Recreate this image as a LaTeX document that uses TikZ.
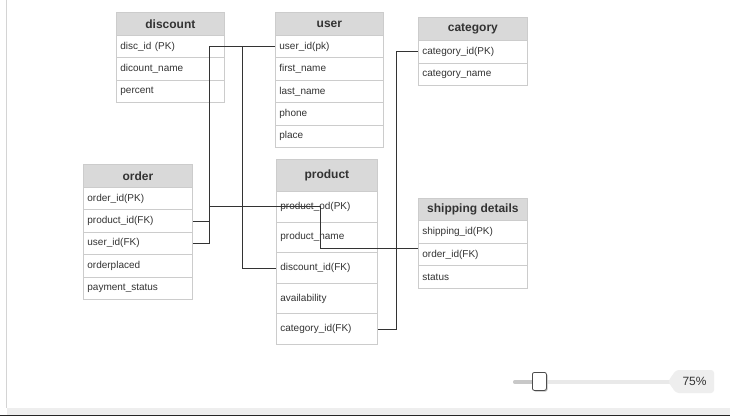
\documentclass[tikz,border=0pt]{standalone}
\usepackage{fontspec}
\setmainfont{Liberation Sans}
\definecolor{hdrfill}{HTML}{D9D9D9}
\definecolor{tblline}{HTML}{CCCCCC}
\definecolor{txt}{HTML}{333333}
\definecolor{wire}{HTML}{333333}
\definecolor{track}{HTML}{E9E9E9}
\definecolor{trackdark}{HTML}{C8C8C8}
\definecolor{bandgray}{HTML}{EEEEEE}
\tikzset{
  hdr/.style={draw=tblline, fill=hdrfill, line width=0.8pt, inner sep=0pt,
    font=\fontsize{12}{14}\selectfont\bfseries, text=txt},
  rowbox/.style={draw=tblline, fill=white, line width=0.8pt, inner xsep=4pt, inner ysep=0pt,
    align=left, font=\fontsize{10}{12}\selectfont, text=txt},
  conn/.style={draw=wire, line width=0.8pt},
}
% #1 name, #2 x, #3 ytop, #4 width, #5 header height, #6 row height, #7 title, #8 rows
\newcommand\erdtab[8]{%
  \node[hdr, minimum width=#4, minimum height=#5, anchor=north west] (#1) at (#2,#3) {#7};
  \pgfmathsetmacro\erdtw{#4-8}%
  \foreach \r [count=\i] in {#8} {
    \pgfmathsetmacro\erdyy{#3+#5+(\i-1)*#6}
    \node[rowbox, minimum width=#4, minimum height=#6, text width=\erdtw pt, anchor=north west]
      (#1-\i) at (#2,\erdyy) {\r};
  }%
}
\begin{document}
\begin{tikzpicture}[x=1pt, y=-1pt]
\useasboundingbox (0,0) rectangle (730,416);
% frame of the canvas
\fill[white] (0,0) rectangle (730,416);
\fill[bandgray] (7,408) rectangle (730,414.5);
\fill[black!85] (0,414.5) rectangle (730,416);
\draw[black!17, line width=1.5pt] (6.5,0) -- (6.5,408);

% tables
\erdtab{discount}{116}{12}{108}{23}{22.3}{discount}{disc\_id (PK),dicount\_name,percent}
\erdtab{user}{275}{12}{108}{23}{22.4}{user}{user\_id(pk),first\_name,last\_name,phone,place}
\erdtab{category}{418}{17}{109}{23}{22.5}{category}{category\_id(PK),category\_name}
\erdtab{order}{83}{164}{109}{23}{22.4}{order}{order\_id(PK),product\_id(FK),user\_id(FK),orderplaced,payment\_status}
\erdtab{product}{276}{159}{101}{32}{30.6}{product}{product\_od(PK),product\_name,discount\_id(FK),availability,category\_id(FK)}
\erdtab{shipping}{418}{198}{109}{22}{22.7}{shipping details}{shipping\_id(PK),order\_id(FK),status}

% junction coordinates
\coordinate (j1) at (209,0);
\coordinate (j2) at (242,0);
\coordinate (j3) at (320,0);
\coordinate (j5) at (396,0);
\coordinate (e4) at (223,206.3);
\coordinate (s4) at ([yshift=6pt]shipping-2.west);

% connectors
\draw[conn] (user-1.west) -- (user-1.west -| j1) |- (order-3.east);
\draw[conn] (discount-1.east) -- (discount-1.east -| j2) |- (product-3.west);
\draw[conn] (order-2.east) -- (order-2.east -| j1) |- (product-1.west);
\draw[conn] (s4) -- (s4 -| j3) |- (e4);
\draw[conn] (product-5.east) -- (product-5.east -| j5) |- (category-1.west);

% zoom slider
\draw[track, line width=4pt, line cap=round] (515,382) -- (672,382);
\draw[trackdark, line width=4pt, line cap=round] (515,382) -- (536,382);
\fill[black!25, rounded corners=2pt] (533.5,373.5) rectangle (547.5,391.5);
\node[draw=black!70, fill=white, line width=0.8pt, rounded corners=2pt,
  minimum width=14pt, minimum height=18pt, inner sep=0pt, anchor=north west] (thumb) at (532,372) {};
\fill[bandgray, rounded corners=3pt] (668,381.5) -- (676,370) -- (714,370) -- (714,393) -- (676,393) -- cycle;
\node[font=\fontsize{12}{14}\selectfont, text=txt, inner sep=0pt] (zoomlbl) at (694.5,381.5) {75\%};
\end{tikzpicture}
\end{document}
